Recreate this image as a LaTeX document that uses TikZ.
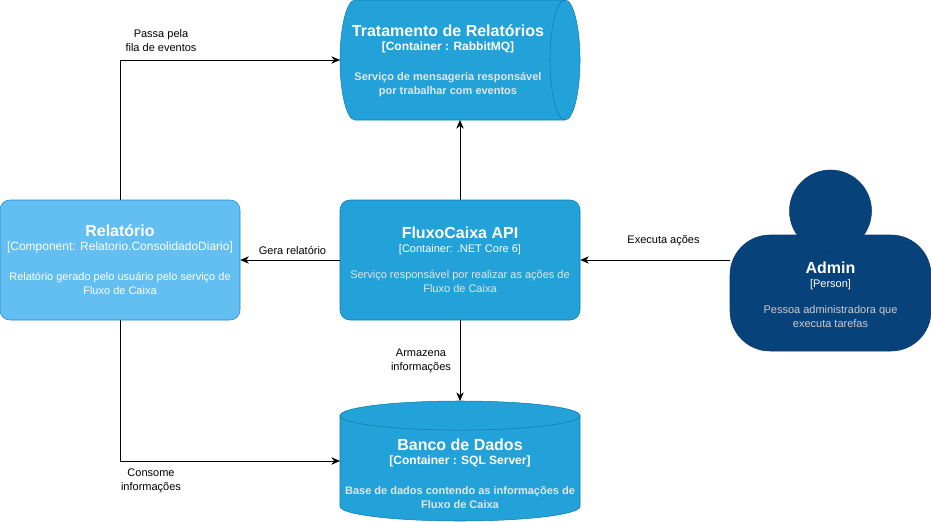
\documentclass[tikz,border=0pt]{standalone}
\usepackage{fontspec}
\setmainfont{Liberation Sans}
\usepackage{xcolor}
\usetikzlibrary{
	arrows.meta,
	positioning,
	calc
}
\definecolor{containerfill}{HTML}{23A2D9}
\definecolor{containerline}{HTML}{0E7DAD}
\definecolor{componentfill}{HTML}{63BEF2}
\definecolor{componentline}{HTML}{2086C9}
\definecolor{personfill}{HTML}{08427B}
\definecolor{personline}{HTML}{073B6F}
\newcommand{\boxname}[1]{{\fontsize{12}{10.5}\selectfont\bfseries #1}}
\newcommand{\boxtype}[1]{{\bfseries #1}}
\newcommand{\boxsmall}[1]{{\fontsize{8.25}{10.5}\selectfont #1}}
\newcommand{\boxdesc}[1]{{\fontsize{8.25}{10.5}\selectfont\bfseries #1}}

\begin{document}
\begin{tikzpicture}[
		x=0.75pt,
		y=-0.75pt,
		>={Stealth[length=6.5pt,width=5.5pt]},
		boxtext/.style={
			align=center,
			inner sep=0pt,
			text=white,
			font={\fontsize{9}{10.5}\selectfont\lineskiplimit=-20pt}
		},
		container/.style={
			rectangle,
			draw=containerline,
			fill=containerfill,
			rounded corners=7.5pt,
			minimum width=180pt,
			minimum height=90pt,
			boxtext
		},
		component/.style={
			container,
			draw=componentline,
			fill=componentfill
		},
		database/.style={
			rectangle,
			minimum width=180pt,
			minimum height=90pt,
			inner sep=0pt,
			outer sep=0pt
		},
		dbline/.style={
			draw=containerline,
			fill=containerfill
		},
		edgelabel/.style={
			align=center,
			inner sep=0pt,
			font={\fontsize{8.25}{10.5}\selectfont}
		}
		]
		\useasboundingbox (0,0) rectangle (931,521);
		
		% Queue
		\node[database] (tratamento) at (460,60) {};
		\draw[dbline] ([xshift=11.25pt]tratamento.north west) -- ([xshift=-11.25pt]tratamento.north east)
			arc[start angle=90,end angle=-90,x radius=11.25pt,y radius=45pt]
			-- ([xshift=11.25pt]tratamento.south west)
			arc[start angle=270,end angle=90,x radius=11.25pt,y radius=45pt] -- cycle;
		\draw[draw=containerline] ([xshift=-11.25pt]tratamento.north east)
			arc[start angle=90,end angle=270,x radius=11.25pt,y radius=45pt];
		\node[boxtext] (tratamentotext) at (448,61) {\boxname{Tratamento de Relatórios}\\
			\boxtype{[Container : RabbitMQ]}\\[12pt]
			\boxdesc{\color{white!90!black}Serviço de mensageria responsável}\\
			\boxdesc{\color{white!90!black}por trabalhar com eventos}};
		
		% Database
		\node[database] (banco) at (460,461) {};
		\draw[dbline] ([yshift=-10.9pt]banco.north west) arc[start angle=180,end angle=0,x radius=90pt,y radius=10.9pt]
			-- ([yshift=10.9pt]banco.south east)
			arc[start angle=0,end angle=-180,x radius=90pt,y radius=10.9pt] -- cycle;
		\draw[draw=containerline] ([yshift=-10.9pt]banco.north west)
			arc[start angle=180,end angle=360,x radius=90pt,y radius=10.9pt];
		\node[boxtext] (bancotext) at (460,474) {\boxname{Banco de Dados}\\
			\boxtype{[Container : SQL Server]}\\[12pt]
			\boxdesc{\color{white!90!black}Base de dados contendo as informações de}\\
			\boxdesc{\color{white!90!black}Fluxo de Caixa}};
		
		% Boxes
		\node[container] (api) at (460,260) {\boxname{FluxoCaixa API}\\
			\boxsmall{[Container: .NET Core 6]}\\[9pt]
			\boxsmall{\color{white!90!black}Serviço responsável por realizar as ações de}\\
			\boxsmall{\color{white!90!black}Fluxo de Caixa}};
		\node[component] (relatorio) at (120,260) {\boxname{Relatório}\\
			{[Component: Relatorio.ConsolidadoDiario]}\\[12pt]
			\boxsmall{Relatório gerado pelo usuário pelo serviço de}\\
			\boxsmall{Fluxo de Caixa}};
		
		% Person
		\node[draw=personline,fill=personfill,rounded corners=30pt,minimum width=150.75pt,minimum height=87pt,inner sep=0pt] (admin) at (830.5,293) {};
		\node[circle,draw=personline,fill=personfill,minimum size=61.5pt,inner sep=0pt] (head) at (830.5,211) {};
		\node[boxtext] (admintext) at (830.5,295) {\boxname{Admin}\\
			\boxsmall{[Person]}\\[9pt]
			\boxsmall{\color{white!80!black}Pessoa administradora que}\\
			\boxsmall{\color{white!80!black}executa tarefas}};
		
		% Connections
		\draw[->] (relatorio.north) |- (tratamento.west);
		\draw[->] (relatorio.south) |- (banco.west);
		\draw[->] (api.north) -- (tratamento.south);
		\draw[->] (api.south) -- (banco.north);
		\draw[->] (api.west) -- (relatorio.east);
		\draw[->] (api.east -| admin.west) -- (api.east);
		
		% Labels
		\node[edgelabel] (passa) at (161,41) {Passa pela\\fila de eventos};
		\node[edgelabel] (gera) at (292.5,250) {Gera relatório};
		\node[edgelabel] (executa) at (663.5,241) {Executa ações};
		\node[edgelabel] (armazena) at (421,361) {Armazena\\informações};
		\node[edgelabel] (consome) at (151,481) {Consome\\informações};
		
	\end{tikzpicture}
\end{document}
